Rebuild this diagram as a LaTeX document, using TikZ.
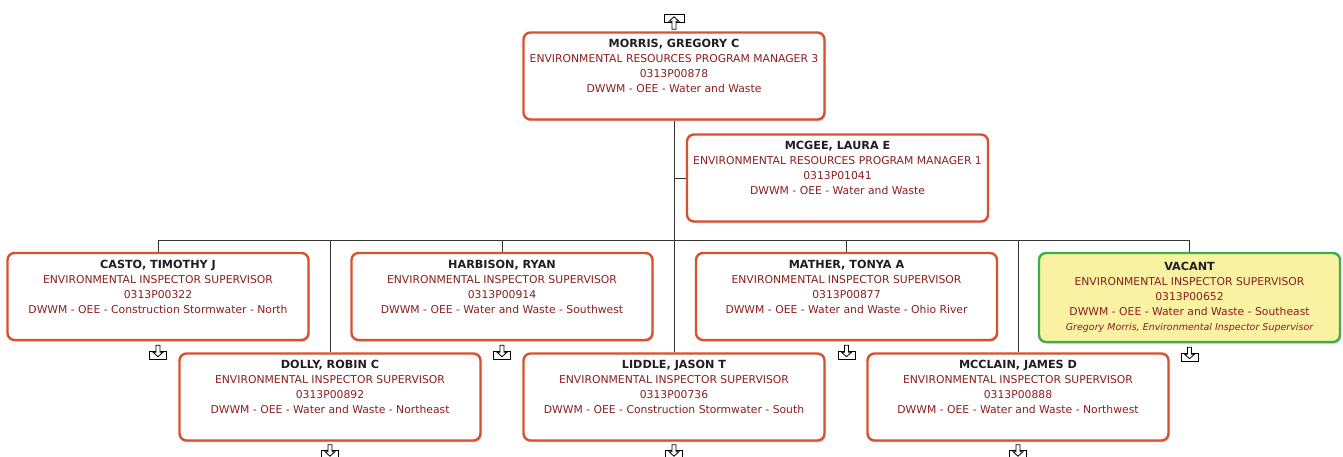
\documentclass[tikz,border=0pt]{standalone}
\usepackage{fontspec}
\setmainfont{DejaVu Sans}
\usetikzlibrary{shadows,backgrounds}
\definecolor{bord}{HTML}{D9502F}
\definecolor{namecol}{HTML}{1E1E24}
\definecolor{tcol}{HTML}{8A1F1F}
\definecolor{vgreen}{HTML}{3FAE4A}
\definecolor{vyellow}{HTML}{F8F2A2}
\definecolor{lcol}{HTML}{333333}
\newcommand{\pn}[1]{{\fontsize{11.2}{15}\selectfont\bfseries\color{namecol}#1}}
\newcommand{\note}[1]{{\fontsize{9.5}{15}\selectfont\itshape #1}}
\begin{document}
\begin{tikzpicture}[x=1pt,y=-1pt,
  box/.style={draw=bord, line width=2.4pt, rounded corners=7pt, fill=white,
    minimum width=301pt, minimum height=87pt, align=center, inner sep=0pt,
    font=\fontsize{10.8}{15}\selectfont, text=tcol,
    drop shadow={shadow xshift=1.2pt, shadow yshift=-1.8pt, opacity=0.3, fill=gray}},
  vac/.style={box, draw=vgreen, fill=vyellow, minimum height=89pt},
  conn/.style={draw=lcol, line width=0.9pt},
  icon/.style={draw=black, line width=0.8pt, line join=miter},
  expdown/.pic={
    \draw[icon, fill=white] (-8.5,0) rectangle (8.5,8);
    \filldraw[icon, fill=white] (-2,-6)--(-2,1)--(-5,1)--(0,5.5)--(5,1)--(2,1)--(2,-6)--cycle;
  },
  expup/.pic={
    \draw[icon, fill=white] (-10,0) rectangle (10,-8);
    \filldraw[icon, fill=white] (-2,7)--(-2,-1)--(-5,-1)--(0,-5.5)--(5,-1)--(2,-1)--(2,7)--cycle;
  }]
\useasboundingbox (0,0) rectangle (1343,457);

\coordinate (bus) at (674,240);

% boxes
\path
 (674,76) node[box] (morris) {\pn{MORRIS, GREGORY C}\\ENVIRONMENTAL RESOURCES PROGRAM MANAGER 3\\0313P00878\\DWWM - OEE - Water and Waste\\\strut}
 (837.5,178) node[box] (mcgee) {\pn{MCGEE, LAURA E}\\ENVIRONMENTAL RESOURCES PROGRAM MANAGER 1\\0313P01041\\DWWM - OEE - Water and Waste\\\strut}
 (158,296.5) node[box] (casto) {\pn{CASTO, TIMOTHY J}\\ENVIRONMENTAL INSPECTOR SUPERVISOR\\0313P00322\\DWWM - OEE - Construction Stormwater - North\\\strut}
 (502,296.5) node[box] (harbison) {\pn{HARBISON, RYAN}\\ENVIRONMENTAL INSPECTOR SUPERVISOR\\0313P00914\\DWWM - OEE - Water and Waste - Southwest\\\strut}
 (846.5,296.5) node[box] (mather) {\pn{MATHER, TONYA A}\\ENVIRONMENTAL INSPECTOR SUPERVISOR\\0313P00877\\DWWM - OEE - Water and Waste - Ohio River\\\strut}
 (1189.5,297.5) node[vac] (vacant) {\pn{VACANT}\\ENVIRONMENTAL INSPECTOR SUPERVISOR\\0313P00652\\DWWM - OEE - Water and Waste - Southeast\\\note{Gregory Morris, Environmental Inspector Supervisor}}
 (330,397) node[box] (dolly) {\pn{DOLLY, ROBIN C}\\ENVIRONMENTAL INSPECTOR SUPERVISOR\\0313P00892\\DWWM - OEE - Water and Waste - Northeast\\\strut}
 (674,397) node[box] (liddle) {\pn{LIDDLE, JASON T}\\ENVIRONMENTAL INSPECTOR SUPERVISOR\\0313P00736\\DWWM - OEE - Construction Stormwater - South\\\strut}
 (1018,397) node[box] (mcclain) {\pn{MCCLAIN, JAMES D}\\ENVIRONMENTAL INSPECTOR SUPERVISOR\\0313P00888\\DWWM - OEE - Water and Waste - Northwest\\\strut};

% connectors, under the boxes
\begin{scope}[on background layer]
  \fill[white] (0,0) rectangle (1343,457);
  \draw[conn] (morris.south) -- (bus);
  \draw[conn] (morris.south |- mcgee.west) -- (mcgee.west);
  \draw[conn] (casto.north |- bus) -- (vacant.north |- bus);
  \foreach \n in {casto, dolly, harbison, liddle, mather, mcclain, vacant}
    \draw[conn] (\n.north |- bus) -- (\n.north);
\end{scope}

% expand icons
\pic at ([yshift=9pt]morris.north) {expup};
\foreach \n in {casto, harbison, mather, vacant}
  \pic at ([yshift=-10pt]\n.south) {expdown};
\foreach \n in {dolly, liddle, mcclain}
  \pic at ([yshift=-9pt]\n.south) {expdown};
\end{tikzpicture}
\end{document}
